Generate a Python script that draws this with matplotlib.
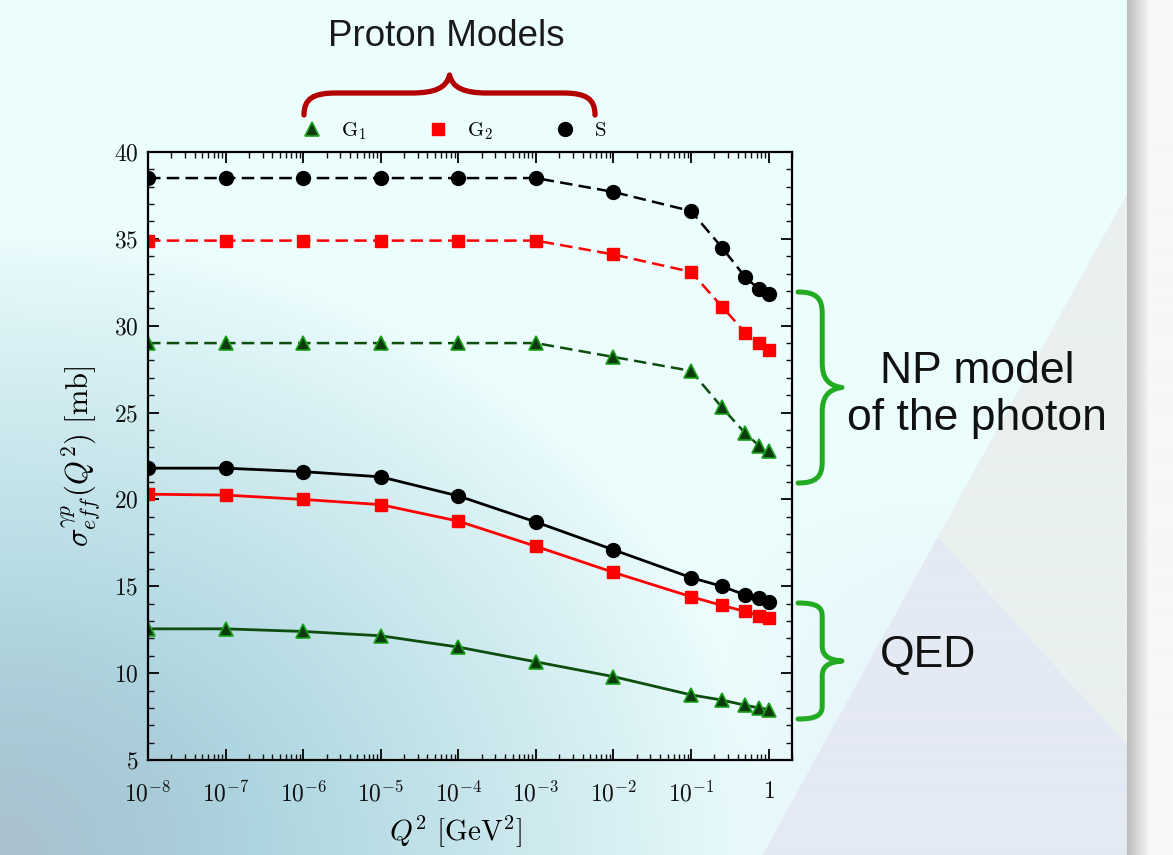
import numpy as np
import matplotlib
matplotlib.use('Agg')
import matplotlib.pyplot as plt
from matplotlib.path import Path
from matplotlib.patches import PathPatch
from matplotlib.lines import Line2D
from matplotlib.ticker import LogLocator, NullFormatter, MultipleLocator

plt.rcParams['mathtext.fontset'] = 'cm'
plt.rcParams['font.family'] = ['Liberation Sans', 'DejaVu Sans']

# data
q2 = [1e-8, 1e-7, 1e-6, 1e-5, 1e-4, 1e-3, 1e-2, 1e-1, 0.25, 0.5, 0.75, 1.0]

# NP model of the photon (dashed)
np_s = [38.5, 38.5, 38.5, 38.5, 38.5, 38.5, 37.7, 36.6, 34.5, 32.8, 32.1, 31.8]
np_g2 = [34.9, 34.9, 34.9, 34.9, 34.9, 34.9, 34.1, 33.1, 31.1, 29.6, 29.0, 28.6]
np_g1 = [29.0, 29.0, 29.0, 29.0, 29.0, 29.0, 28.2, 27.4, 25.3, 23.8, 23.1, 22.8]

# QED (solid)
qed_s = [21.8, 21.8, 21.6, 21.3, 20.2, 18.7, 17.1, 15.5, 15.0, 14.5, 14.3, 14.1]
qed_g2 = [20.3, 20.25, 20.0, 19.7, 18.75, 17.3, 15.8, 14.4, 13.9, 13.55, 13.3, 13.2]
qed_g1 = [12.55, 12.55, 12.4, 12.15, 11.5, 10.65, 9.8, 8.75, 8.45, 8.15, 8.0, 7.9]

xtick_vals = [1e-8, 1e-7, 1e-6, 1e-5, 1e-4, 1e-3, 1e-2, 1e-1, 1]
xtick_labels = [r'$10^{-8}$', r'$10^{-7}$', r'$10^{-6}$', r'$10^{-5}$', r'$10^{-4}$',
                r'$10^{-3}$', r'$10^{-2}$', r'$10^{-1}$', r'$1$']
ytick_vals = [5, 10, 15, 20, 25, 30, 35, 40]
legend_labels = [r'$\mathrm{G}_1$', r'$\mathrm{G}_2$', r'$\mathrm{S}$']

W, H = 1173, 855
fig = plt.figure(figsize=(W / 100, H / 100), dpi=100)

# ---- background (slide-like gradient) ----
yy, xx = np.mgrid[0:H, 0:W].astype(float)
base = np.array([236, 253, 253]) / 255.0
img = np.ones((H, W, 3)) * base
# teal darkening towards bottom-left
d = np.sqrt((xx / 760.0) ** 2 + ((H - yy) / 620.0) ** 2)
t = np.clip(1 - d, 0, 1) ** 0.9
dark = np.array([145, 195, 210]) / 255.0
img = img * (1 - t[..., None]) + dark * t[..., None]
# grey-ish corner
c = np.clip(1 - np.sqrt((xx / 260.0) ** 2 + ((H - yy) / 260.0) ** 2), 0, 1)
img = img * (1 - 0.6 * c[..., None]) + np.array([190, 192, 206]) / 255.0 * 0.6 * c[..., None]
# soft light-blue tint lower right
lb = np.clip(((yy - 480) / 300.0), 0, 1) * np.clip((xx - 700) / 200.0, 0, 1)
img = img * (1 - 0.5 * lb[..., None]) + np.array([222, 232, 246]) / 255.0 * 0.5 * lb[..., None]
# diagonal grey panel on the right
side = (xx - 1126) * 355 + (yy - 195) * 196 > 0
img[side & (xx < 1127)] = np.array([234, 240, 240]) / 255.0
low = side & (xx < 1127) & ((xx - 937) * 193 - (yy - 537) * 176 < 0)
img[low] = np.array([228, 234, 244]) / 255.0
# grey strip with shadow at the right edge
strip = xx >= 1127
s = np.clip((xx - 1127) / 22.0, 0, 1)
grey = (188 + (247 - 188) * s) / 255.0
img[strip] = np.stack([grey, grey, grey], axis=-1)[strip]

bg = fig.add_axes([0, 0, 1, 1])
bg.imshow(img, extent=(0, W, H, 0), aspect='auto', zorder=0)
bg.set_xlim(0, W)
bg.set_ylim(H, 0)
bg.axis('off')


def brace(axis, p0, p1, width, color, lw):
    # curly brace from p0 to p1, tip on the left side of the p0->p1 direction
    p0 = np.array(p0, float)
    p1 = np.array(p1, float)
    along = p1 - p0
    n = np.array([along[1], -along[0]]) / np.linalg.norm(along)
    uv = [(0, 0), (0, 0.4), (0.03, 0.55), (0.11, 0.55), (0.37, 0.55),
          (0.45, 0.55), (0.49, 0.68), (0.5, 1.0),
          (0.51, 0.68), (0.55, 0.55), (0.63, 0.55), (0.89, 0.55),
          (0.97, 0.55), (1.0, 0.4), (1.0, 0.0)]
    codes = [Path.MOVETO, Path.CURVE4, Path.CURVE4, Path.CURVE4, Path.LINETO,
             Path.CURVE4, Path.CURVE4, Path.CURVE4,
             Path.CURVE4, Path.CURVE4, Path.CURVE4, Path.LINETO,
             Path.CURVE4, Path.CURVE4, Path.CURVE4]
    pts = [p0 + u * along + v * width * n for u, v in uv]
    axis.add_patch(PathPatch(Path(pts, codes), fill=False, edgecolor=color,
                             lw=lw, capstyle='round', joinstyle='round', zorder=3))


# red brace above legend, green braces right of the plot
brace(bg, (304, 115), (595, 115), 40, '#b30000', 3.8)
brace(bg, (798, 292), (798, 483), 44, '#22aa22', 3.6)
brace(bg, (798, 603), (798, 719), 44, '#22aa22', 3.6)

bg.text(446, 36, 'Proton Models', fontsize=26.5, ha='center', va='center', color='#1a1a1a')
bg.text(977, 395, 'NP model\nof the photon', fontsize=32, ha='center', va='center',
        linespacing=1.2, color='#111111')
bg.text(880, 655, 'QED', fontsize=32, ha='left', va='center', color='#111111')

# ---- main plot ----
ax = fig.add_axes([148 / W, 1 - 760 / H, 644 / W, 608 / H])
ax.set_facecolor('none')

g1_face, g1_edge, g1_line = '#0c3a0c', '#18a018', '#0d4d0d'
dash = (5, 2.5)
ms = 10

ax.plot(q2, np_s, color='black', lw=1.8, ls='--', dashes=dash, marker='o', ms=ms)
ax.plot(q2, np_g2, color='#ff0000', lw=1.8, ls='--', dashes=dash, marker='s', ms=ms - 1)
ax.plot(q2, np_g1, color=g1_line, lw=1.8, ls='--', dashes=dash, marker='^', ms=ms,
        mfc=g1_face, mec=g1_edge, mew=1.2)

ax.plot(q2, qed_s, color='black', lw=2.0, marker='o', ms=ms)
ax.plot(q2, qed_g2, color='#ff0000', lw=2.0, marker='s', ms=ms - 1)
ax.plot(q2, qed_g1, color=g1_line, lw=2.0, marker='^', ms=ms,
        mfc=g1_face, mec=g1_edge, mew=1.2)

ax.set_xscale('log')
ax.set_xlim(1e-8, 2)
ax.set_ylim(5, 40)
ax.set_xticks(xtick_vals)
ax.set_xticklabels(xtick_labels)
ax.xaxis.set_minor_locator(LogLocator(base=10, subs=np.arange(2, 10), numticks=20))
ax.xaxis.set_minor_formatter(NullFormatter())
ax.set_yticks(ytick_vals)
ax.set_yticklabels([r'$%d$' % v for v in ytick_vals])
ax.yaxis.set_minor_locator(MultipleLocator(1))

ax.tick_params(which='both', direction='in', top=True, right=True, labelsize=17,
               colors='#111111')
ax.tick_params(which='major', length=8, width=1.4)
ax.tick_params(which='minor', length=4.5, width=1.0)
ax.tick_params(axis='x', which='major', pad=15)
ax.tick_params(axis='y', which='major', pad=7)
for sp in ax.spines.values():
    sp.set_linewidth(1.6)

ax.set_xlabel(r'$Q^2\ [\mathrm{GeV}^2]$', fontsize=21)
ax.xaxis.set_label_coords(0.478, -0.088)
ax.set_ylabel(r'$\sigma^{\gamma p}_{eff}(Q^2)\ [\mathrm{mb}]$', fontsize=22, labelpad=8)

handles = [
    Line2D([], [], ls='none', marker='^', ms=ms, mfc=g1_face, mec=g1_edge, mew=1.2),
    Line2D([], [], ls='none', marker='s', ms=ms - 1, color='#ff0000'),
    Line2D([], [], ls='none', marker='o', ms=ms, color='black'),
]
ax.legend(handles, legend_labels, loc='lower center', bbox_to_anchor=(0.475, 1.0),
          ncol=3, frameon=False, fontsize=15, handlelength=1.0, handletextpad=0.9,
          columnspacing=2.95, borderaxespad=0.1)

fig.savefig('out.png', dpi=100)
